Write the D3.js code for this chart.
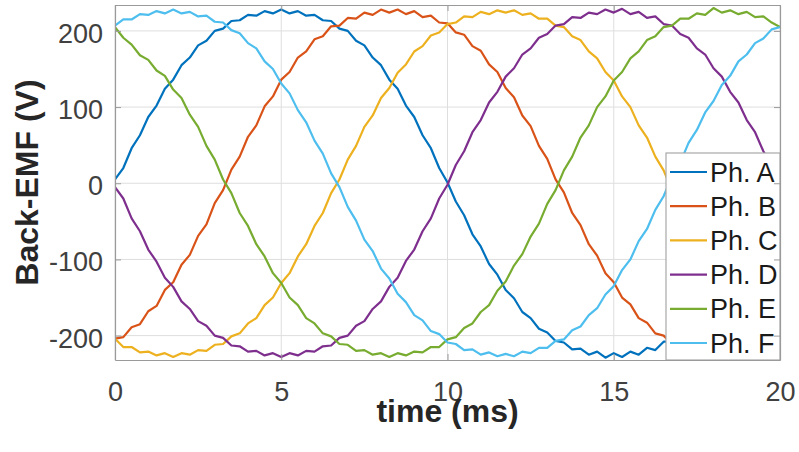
<!DOCTYPE html>
<html>
<head>
<meta charset="utf-8">
<script src="https://cdn.jsdelivr.net/npm/d3@7"></script>
<style>
  html, body { margin: 0; padding: 0; background: #fff; }
  svg { display: block; }
</style>
</head>
<body>
<svg id="chart" width="799" height="452"></svg>
<script>
// ---- data ----
const timeMs = [0,0.25,0.5,0.75,1,1.25,1.5,1.75,2,2.25,2.5,2.75,3,3.25,3.5,3.75,4,4.25,4.5,4.75,5,5.25,5.5,5.75,6,6.25,6.5,6.75,7,7.25,7.5,7.75,8,8.25,8.5,8.75,9,9.25,9.5,9.75,10,10.25,10.5,10.75,11,11.25,11.5,11.75,12,12.25,12.5,12.75,13,13.25,13.5,13.75,14,14.25,14.5,14.75,15,15.25,15.5,15.75,16,16.25,16.5,16.75,17,17.25,17.5,17.75,18,18.25,18.5,18.75,19,19.25,19.5,19.75,20];

const phA = [5,20,46,63,87,102,124,136,155,165,181,187,200,203,213,214,221,220,226,223,228,223,226,220,221,214,213,203,200,187,181,165,155,136,124,102,87,63,46,20,1,-24,-42,-67,-83,-106,-120,-140,-151,-169,-177,-191,-196,-207,-209,-218,-217,-225,-221,-229,-223,-228,-221,-225,-216,-219,-208,-208,-195,-192,-176,-170,-150,-141,-119,-107,-82,-68,-41,-25,2];
const phB = [-204,-202,-189,-185,-168,-161,-140,-130,-107,-94,-69,-54,-26,-9,18,35,61,76,101,114,136,146,165,173,189,193,206,207,217,216,224,221,228,224,228,222,226,218,220,211,210,198,195,180,174,156,146,125,113,89,75,49,32,5,-12,-39,-55,-80,-95,-118,-130,-150,-159,-177,-183,-197,-200,-211,-211,-220,-218,-225,-222,-228,-222,-226,-220,-222,-214,-215,-204];
const phC = [-204,-215,-215,-222,-221,-226,-223,-228,-223,-225,-219,-220,-212,-211,-201,-197,-184,-177,-160,-150,-131,-118,-96,-80,-56,-39,-13,5,31,49,74,89,112,125,145,156,173,180,194,198,209,211,219,218,225,222,227,224,227,221,223,216,216,207,205,193,188,173,164,146,135,114,100,76,60,35,17,-9,-27,-53,-70,-93,-108,-129,-141,-160,-169,-184,-190,-202,-205];
const phD = [-5,-20,-46,-63,-87,-103,-124,-136,-155,-165,-181,-187,-200,-203,-213,-214,-221,-220,-226,-223,-228,-223,-226,-220,-221,-214,-213,-203,-200,-187,-181,-165,-155,-136,-124,-102,-87,-63,-46,-20,-2,24,42,67,83,106,120,140,151,169,177,191,196,207,209,218,217,224,222,228,224,229,222,225,217,219,209,207,196,191,177,169,151,140,120,106,83,67,42,24,-2];
const phE = [205,191,182,168,162,148,141,123,112,90,74,49,31,5,-13,-39,-56,-80,-96,-118,-131,-150,-160,-177,-184,-197,-201,-211,-212,-220,-219,-225,-223,-228,-223,-226,-221,-222,-215,-215,-205,-202,-190,-184,-169,-160,-141,-129,-108,-93,-70,-53,-27,-9,17,35,60,76,100,114,135,146,164,173,188,193,205,207,216,216,223,221,230,224,227,222,225,218,219,211,205];
const phF = [207,215,215,222,221,226,223,228,223,225,219,220,212,211,201,197,184,177,160,150,131,118,96,80,56,39,13,-5,-31,-49,-74,-89,-112,-125,-145,-156,-173,-180,-194,-198,-209,-211,-219,-218,-225,-222,-227,-224,-227,-221,-223,-216,-216,-207,-205,-193,-188,-173,-164,-146,-135,-114,-100,-76,-60,-35,-17,9,27,53,70,93,108,129,141,160,169,184,190,202,205];

const seriesNames = ["Ph. A","Ph. B","Ph. C","Ph. D","Ph. E","Ph. F"];
const seriesValues = [phA, phB, phC, phD, phE, phF];
const seriesColors = ["#0072BD","#D95319","#EDB120","#7E2F8E","#77AC30","#4DBEEE"];
const xTicks = [0,5,10,15,20];
const yTicks = [-200,-100,0,100,200];
const xLabel = "time (ms)";
const yLabel = "Back-EMF (V)";

// ---- layout ----
const L = 115, R = 780, T = 5, B = 360;
const x = d3.scaleLinear().domain([0,20]).range([L,R]);
const y = d3.scaleLinear().domain([-232,234]).range([B,T]);
const font = "'Liberation Sans', Arial, Helvetica, sans-serif";

const svg = d3.select("#chart");
svg.append("rect").attr("width",799).attr("height",452).attr("fill","#fff");

// grid
const grid = svg.append("g");
grid.selectAll("line.gx").data(xTicks).join("line")
  .attr("x1",d=>x(d)).attr("x2",d=>x(d)).attr("y1",T).attr("y2",B)
  .attr("stroke","#dedede").attr("stroke-width",1);
grid.selectAll("line.gy").data(yTicks).join("line")
  .attr("x1",L).attr("x2",R).attr("y1",d=>y(d)).attr("y2",d=>y(d))
  .attr("stroke","#dedede").attr("stroke-width",1);

// clip
svg.append("defs").append("clipPath").attr("id","clip")
  .append("rect").attr("x",L).attr("y",T).attr("width",R-L).attr("height",B-T);

// lines
const line = d3.line().x((d,i)=>x(timeMs[i])).y(d=>y(d));
const lines = svg.append("g").attr("clip-path","url(#clip)");
seriesValues.forEach((vals,k)=>{
  lines.append("path").datum(vals)
    .attr("d",line).attr("fill","none")
    .attr("stroke",seriesColors[k]).attr("stroke-width",2.2)
    .attr("stroke-linejoin","round");
});

// axes (MATLAB-like box with inward ticks)
const axisColor = "#9a9a9a";
const fmt = d => String(d);
const xAxisB = d3.axisBottom(x).tickValues(xTicks).tickSize(-6).tickSizeOuter(0).tickFormat(fmt);
const xAxisT = d3.axisTop(x).tickValues(xTicks).tickSize(-6).tickSizeOuter(0).tickFormat("");
const yAxisL = d3.axisLeft(y).tickValues(yTicks).tickSize(-6).tickSizeOuter(0).tickFormat(fmt);
const yAxisR = d3.axisRight(y).tickValues(yTicks).tickSize(-6).tickSizeOuter(0).tickFormat("");

function styleAxis(g){
  g.select(".domain").attr("stroke",axisColor).attr("stroke-width",1.2);
  g.selectAll(".tick line").attr("stroke",axisColor);
  g.selectAll(".tick text").attr("fill","#404040").style("font-family",font).style("font-size","27px");
}

// legend (drawn over lines)
const lg = svg.append("g");
const lgX = 666, lgY = 153, lgW = R - 666, lgH = B - 153;
lg.append("rect").attr("x",lgX).attr("y",lgY).attr("width",lgW).attr("height",lgH)
  .attr("fill","#fff").attr("stroke","#a8a8a8").attr("stroke-width",1.2);
seriesNames.forEach((name,k)=>{
  const cy = 172 + k*34.2;
  lg.append("line").attr("x1",670).attr("x2",707).attr("y1",cy).attr("y2",cy)
    .attr("stroke",seriesColors[k]).attr("stroke-width",2.2);
  lg.append("text").attr("x",710).attr("y",cy+9.5).text(name)
    .attr("fill","#1a1a1a").style("font-family",font).style("font-size","27px");
});

const gxb = svg.append("g").attr("transform",`translate(0,${B})`).call(xAxisB).call(styleAxis);
gxb.selectAll(".tick text").attr("dy",null).attr("y",41);
const gxt = svg.append("g").attr("transform",`translate(0,${T})`).call(xAxisT).call(styleAxis);
const gyl = svg.append("g").attr("transform",`translate(${L},0)`).call(yAxisL).call(styleAxis);
gyl.selectAll(".tick text").attr("x",-12).attr("dy",null).attr("y",11.5);
const gyr = svg.append("g").attr("transform",`translate(${R},0)`).call(yAxisR).call(styleAxis);

// axis titles
svg.append("text").attr("x",(L+R)/2).attr("y",422).attr("text-anchor","middle")
  .attr("fill","#262626").style("font-family",font).style("font-size","32px").style("font-weight","bold")
  .text(xLabel);
svg.append("text").attr("transform",`translate(38,${(T+B)/2}) rotate(-90)`).attr("text-anchor","middle")
  .attr("fill","#262626").style("font-family",font).style("font-size","32px").style("font-weight","bold")
  .text(yLabel);
</script>
</body>
</html>
